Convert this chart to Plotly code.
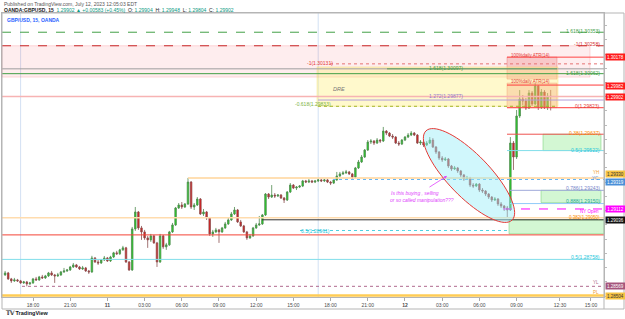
import numpy as np
import pandas as pd
import plotly.graph_objects as go

# ---------------- data ----------------
start_time = "2023-07-10 15:45"
opens = [
 1.28649, 1.28663, 1.28621, 1.28607, 1.28614, 1.28607, 1.28593, 1.28600, 1.28586, 1.28593,
 1.28621, 1.28614, 1.28635, 1.28628, 1.28642, 1.28663, 1.28649, 1.28642, 1.28649, 1.28670,
 1.28677, 1.28684, 1.28705, 1.28719, 1.28705, 1.28691, 1.28698, 1.28677, 1.28670, 1.28768,
 1.28740, 1.28733, 1.28754, 1.28768, 1.28747, 1.28775, 1.28804, 1.28797, 1.28825, 1.28839,
 1.28740, 1.28684, 1.28972, 1.29091, 1.28979, 1.28951, 1.28909, 1.28895, 1.28923, 1.28874,
 1.28740, 1.28923, 1.28846, 1.28860, 1.28951, 1.29000, 1.29119, 1.29140, 1.29126, 1.29147,
 1.29301, 1.29126, 1.29140, 1.29182, 1.29077, 1.29091, 1.29049, 1.28937, 1.28951, 1.28965,
 1.28951, 1.28979, 1.29007, 1.29035, 1.29077, 1.29105, 1.29021, 1.28993, 1.28951, 1.28909,
 1.28923, 1.28979, 1.29000, 1.29007, 1.29070, 1.29217, 1.29196, 1.29210, 1.29203, 1.29210,
 1.29189, 1.29175, 1.29231, 1.29280, 1.29259, 1.29266, 1.29273, 1.29309, 1.29301, 1.29309,
 1.29301, 1.29309, 1.29316, 1.29309, 1.29316, 1.29301, 1.29294, 1.29316, 1.29344, 1.29358,
 1.29365, 1.29372, 1.29358, 1.29337, 1.29400, 1.29442, 1.29477, 1.29526, 1.29582, 1.29589,
 1.29575, 1.29596, 1.29589, 1.29659, 1.29645, 1.29624, 1.29617, 1.29575, 1.29568, 1.29596,
 1.29617, 1.29631, 1.29645, 1.29631, 1.29575, 1.29582, 1.29561, 1.29575, 1.29596, 1.29547,
 1.29512, 1.29470, 1.29456, 1.29463, 1.29414, 1.29393, 1.29400, 1.29379, 1.29351, 1.29323,
 1.29330, 1.29280, 1.29273, 1.29287, 1.29245, 1.29238, 1.29217, 1.29196, 1.29175, 1.29182,
 1.29147, 1.29133, 1.29119, 1.29105, 1.29575, 1.29477, 1.29765, 1.29884, 1.29870, 1.29821,
 1.29926, 1.29849, 1.29975, 1.29828, 1.29933, 1.29828, 1.29904]
highs = [
 1.28677, 1.28670, 1.28628, 1.28628, 1.28621, 1.28614, 1.28607, 1.28607, 1.28600, 1.28628,
 1.28635, 1.28642, 1.28649, 1.28649, 1.28670, 1.28677, 1.28656, 1.28663, 1.28677, 1.28698,
 1.28691, 1.28712, 1.28733, 1.28726, 1.28712, 1.28712, 1.28705, 1.28684, 1.28783, 1.28775,
 1.28754, 1.28761, 1.28782, 1.28775, 1.28783, 1.28811, 1.28818, 1.28832, 1.28853, 1.28846,
 1.28747, 1.28986, 1.29126, 1.29098, 1.28993, 1.28965, 1.28923, 1.28937, 1.28930, 1.28881,
 1.28937, 1.28930, 1.28874, 1.28958, 1.29014, 1.29126, 1.29154, 1.29161, 1.29154, 1.29330,
 1.29308, 1.29154, 1.29196, 1.29189, 1.29112, 1.29098, 1.29056, 1.28965, 1.28979, 1.28972,
 1.28986, 1.29021, 1.29049, 1.29091, 1.29126, 1.29112, 1.29035, 1.29000, 1.28958, 1.28937,
 1.28986, 1.29014, 1.29063, 1.29077, 1.29224, 1.29224, 1.29280, 1.29224, 1.29217, 1.29217,
 1.29196, 1.29238, 1.29294, 1.29287, 1.29273, 1.29280, 1.29316, 1.29316, 1.29323, 1.29316,
 1.29316, 1.29323, 1.29323, 1.29323, 1.29323, 1.29309, 1.29323, 1.29372, 1.29372, 1.29379,
 1.29386, 1.29379, 1.29365, 1.29407, 1.29456, 1.29491, 1.29533, 1.29596, 1.29603, 1.29596,
 1.29610, 1.29603, 1.29688, 1.29666, 1.29652, 1.29638, 1.29624, 1.29589, 1.29603, 1.29624,
 1.29645, 1.29659, 1.29652, 1.29638, 1.29596, 1.29589, 1.29589, 1.29617, 1.29610, 1.29554,
 1.29519, 1.29484, 1.29477, 1.29470, 1.29421, 1.29414, 1.29407, 1.29386, 1.29358, 1.29344,
 1.29337, 1.29294, 1.29294, 1.29294, 1.29259, 1.29245, 1.29224, 1.29203, 1.29196, 1.29189,
 1.29161, 1.29140, 1.29133, 1.29617, 1.29589, 1.29807, 1.29947, 1.29912, 1.29891, 1.29947,
 1.29940, 1.29996, 1.29982, 1.29954, 1.29947, 1.29926, 1.29948]
lows = [
 1.28642, 1.28614, 1.28593, 1.28600, 1.28600, 1.28586, 1.28586, 1.28569, 1.28579, 1.28586,
 1.28607, 1.28607, 1.28621, 1.28621, 1.28635, 1.28642, 1.28593, 1.28635, 1.28642, 1.28663,
 1.28670, 1.28677, 1.28698, 1.28698, 1.28684, 1.28684, 1.28670, 1.28656, 1.28663, 1.28733,
 1.28719, 1.28726, 1.28747, 1.28740, 1.28740, 1.28768, 1.28790, 1.28790, 1.28818, 1.28733,
 1.28677, 1.28677, 1.28958, 1.28965, 1.28895, 1.28895, 1.28839, 1.28881, 1.28867, 1.28705,
 1.28733, 1.28832, 1.28825, 1.28853, 1.28944, 1.28993, 1.29112, 1.29112, 1.29119, 1.29140,
 1.29112, 1.29105, 1.29133, 1.29070, 1.29063, 1.29035, 1.28923, 1.28916, 1.28944, 1.28874,
 1.28944, 1.28972, 1.29000, 1.29028, 1.29070, 1.29014, 1.28986, 1.28944, 1.28895, 1.28902,
 1.28916, 1.28972, 1.28993, 1.29000, 1.29063, 1.29182, 1.29189, 1.29189, 1.29196, 1.29182,
 1.29154, 1.29168, 1.29224, 1.29252, 1.29245, 1.29259, 1.29266, 1.29294, 1.29294, 1.29294,
 1.29294, 1.29301, 1.29301, 1.29301, 1.29294, 1.29280, 1.29287, 1.29309, 1.29337, 1.29351,
 1.29358, 1.29351, 1.29323, 1.29330, 1.29393, 1.29435, 1.29470, 1.29519, 1.29568, 1.29561,
 1.29568, 1.29575, 1.29582, 1.29631, 1.29617, 1.29603, 1.29568, 1.29554, 1.29561, 1.29589,
 1.29610, 1.29624, 1.29624, 1.29568, 1.29561, 1.29547, 1.29554, 1.29568, 1.29540, 1.29498,
 1.29456, 1.29442, 1.29449, 1.29400, 1.29379, 1.29386, 1.29365, 1.29337, 1.29309, 1.29316,
 1.29266, 1.29259, 1.29266, 1.29231, 1.29224, 1.29203, 1.29182, 1.29161, 1.29168, 1.29133,
 1.29119, 1.29098, 1.29050, 1.29098, 1.29386, 1.29463, 1.29751, 1.29842, 1.29807, 1.29814,
 1.29835, 1.29842, 1.29807, 1.29814, 1.29814, 1.29807, 1.29804]
closes = [
 1.28663, 1.28621, 1.28607, 1.28614, 1.28607, 1.28593, 1.28600, 1.28586, 1.28593, 1.28621,
 1.28614, 1.28635, 1.28628, 1.28642, 1.28663, 1.28649, 1.28642, 1.28649, 1.28670, 1.28677,
 1.28684, 1.28705, 1.28719, 1.28705, 1.28691, 1.28698, 1.28677, 1.28670, 1.28768, 1.28740,
 1.28733, 1.28754, 1.28768, 1.28747, 1.28775, 1.28804, 1.28797, 1.28825, 1.28839, 1.28740,
 1.28684, 1.28972, 1.29091, 1.28979, 1.28951, 1.28909, 1.28895, 1.28923, 1.28874, 1.28740,
 1.28923, 1.28846, 1.28860, 1.28951, 1.29000, 1.29119, 1.29140, 1.29126, 1.29147, 1.29301,
 1.29126, 1.29140, 1.29182, 1.29077, 1.29091, 1.29049, 1.28937, 1.28951, 1.28965, 1.28951,
 1.28979, 1.29007, 1.29035, 1.29077, 1.29105, 1.29021, 1.28993, 1.28951, 1.28909, 1.28923,
 1.28979, 1.29000, 1.29007, 1.29070, 1.29217, 1.29196, 1.29210, 1.29203, 1.29210, 1.29189,
 1.29175, 1.29231, 1.29280, 1.29259, 1.29266, 1.29273, 1.29309, 1.29301, 1.29309, 1.29301,
 1.29309, 1.29316, 1.29309, 1.29316, 1.29301, 1.29294, 1.29316, 1.29344, 1.29358, 1.29365,
 1.29372, 1.29358, 1.29337, 1.29400, 1.29442, 1.29477, 1.29526, 1.29582, 1.29589, 1.29575,
 1.29596, 1.29589, 1.29659, 1.29645, 1.29624, 1.29617, 1.29575, 1.29568, 1.29596, 1.29617,
 1.29631, 1.29645, 1.29631, 1.29575, 1.29582, 1.29561, 1.29575, 1.29596, 1.29547, 1.29512,
 1.29470, 1.29456, 1.29463, 1.29414, 1.29393, 1.29400, 1.29379, 1.29351, 1.29323, 1.29330,
 1.29280, 1.29273, 1.29287, 1.29245, 1.29238, 1.29217, 1.29196, 1.29175, 1.29182, 1.29147,
 1.29133, 1.29119, 1.29105, 1.29575, 1.29477, 1.29765, 1.29884, 1.29870, 1.29821, 1.29926,
 1.29849, 1.29975, 1.29828, 1.29933, 1.29828, 1.29904, 1.29902]

tick_times = ["2023-07-10 18:00", "2023-07-10 21:00", "2023-07-11 00:00", "2023-07-11 03:00",
              "2023-07-11 06:00", "2023-07-11 09:00", "2023-07-11 12:00", "2023-07-11 15:00",
              "2023-07-11 18:00", "2023-07-11 21:00", "2023-07-12 00:00", "2023-07-12 03:00",
              "2023-07-12 06:00", "2023-07-12 09:00", "2023-07-12 12:30", "2023-07-12 15:00"]
tick_labels = ["18:00", "21:00", "<b>11</b>", "03:00", "06:00", "09:00", "12:00", "15:00",
               "18:00", "21:00", "<b>12</b>", "03:00", "06:00", "09:00", "12:30", "15:00"]

# horizontal levels drawn on the chart (prices)
level_prices = [1.30353, 1.30258, 1.30178, 1.30131, 1.30096, 1.30062, 1.29982, 1.29902,
                1.29877, 1.29833, 1.29823, 1.29637, 1.29522, 1.29330, 1.29319, 1.29243,
                1.29150, 1.29112, 1.29050, 1.29036, 1.28961, 1.28930, 1.28758, 1.28569,
                1.28504]
# zones (top, bottom prices)
zone_tops = [1.30258, 1.30178, 1.30109, 1.29996, 1.29637, 1.29243, 1.29036]
zone_bottoms = [1.30038, 1.30024, 1.29833, 1.29823, 1.29522, 1.29157, 1.28937]

times = pd.date_range(start_time, periods=len(closes), freq="15min")

# ---------------- layout helpers (pixel -> paper) ----------------
PL, PR, PT, PB = 2, 604, 13, 297
def X(px):
    return (px - PL) / (PR - PL)
def Y(py):
    return (PB - py) / (PB - PT)

FONT = "Liberation Sans, Arial, sans-serif"

fig = go.Figure()
fig.add_trace(go.Candlestick(
    x=times, open=opens, high=highs, low=lows, close=closes,
    increasing=dict(fillcolor="#22d522", line=dict(color="#4f8a4f", width=0.8)),
    decreasing=dict(fillcolor="#e31414", line=dict(color="#8a4f4f", width=0.8)),
    whiskerwidth=0, showlegend=False, hoverinfo="skip"))

shapes = []
# zones
zone_style = [
    (2, 590, "rgba(242,54,69,0.09)", "rgba(242,54,69,0.30)"),
    (507, 557, "rgba(230,90,90,0.25)", "rgba(230,90,90,0.6)"),
    (317, 558, "rgba(255,238,110,0.35)", "rgba(240,220,90,0.6)"),
    (507, 557, "rgba(240,150,100,0.28)", "rgba(240,130,90,0.5)"),
    (543, 601, "rgba(110,230,110,0.30)", "rgba(90,200,90,0.7)"),
    (541, 601, "rgba(110,230,110,0.30)", "rgba(90,200,90,0.7)"),
    (509, 604, "rgba(110,230,110,0.30)", "rgba(90,200,90,0.7)"),
]
for (x0, x1, fc, lc), t, b in zip(zone_style, zone_tops, zone_bottoms):
    shapes.append(dict(type="rect", xref="paper", yref="y", x0=X(x0), x1=X(x1), y0=b, y1=t,
                       fillcolor=fc, line=dict(color=lc, width=0.6), layer="above"))

line_style = [
    (2, 604, "#43a047", 1, "dash"),
    (2, 604, "#c62828", 1, "dash"),
    (507, 604, "#ff4444", 1, "solid"),
    (330, 604, "#e57373", 1, "dot"),
    (2, 604, "#9e9e9e", 1, "solid"),
    (2, 604, "#43a047", 1, "solid"),
    (507, 604, "#ff3b3b", 1, "solid"),
    (2, 604, "#f7b3b3", 1.5, "solid"),
    (318, 604, "#b39ddb", 1, "solid"),
    (318, 558, "#a4b42a", 1, "dot"),
    (507, 604, "#ff3b3b", 1, "solid"),
    (507, 604, "#ef5350", 1, "solid"),
    (507, 604, "#80deea", 1, "solid"),
    (188, 604, "#ffd59a", 1.5, "solid"),
    (333, 604, "#64b5f6", 1, "dot"),
    (510, 604, "#9fa8da", 1, "solid"),
    (510, 604, "#90caf9", 1, "solid"),
    (503, 604, "#ff00ff", 1, "dash"),
    (2, 604, "#ffdcae", 1.5, "solid"),
    (262, 604, "#333333", 1, "solid"),
    (300, 510, "#4dd0e1", 1, "dot"),
    (2, 604, "#f44336", 1, "solid"),
    (2, 604, "#80deea", 1, "solid"),
    (22, 604, "#b06a8f", 1, "dot"),
    (2, 604, "#ffcc55", 2.5, "solid"),
]
for (x0, x1, c, w, d), p in zip(line_style, level_prices):
    shapes.append(dict(type="line", xref="paper", yref="y", x0=X(x0), x1=X(x1), y0=p, y1=p,
                       line=dict(color=c, width=w, dash=d), layer="above"))
# green overlay segment of 1.618 level
shapes.append(dict(type="line", xref="paper", yref="y", x0=X(387), x1=X(557),
                   y0=level_prices[4], y1=level_prices[4], line=dict(color="#5a9f5a", width=1)))

# session breaks
for t in ["2023-07-10 17:00", "2023-07-11 17:00"]:
    shapes.append(dict(type="line", xref="x", yref="paper", x0=t, x1=t, y0=0, y1=1,
                       line=dict(color="#d3e1f3", width=1), layer="below"))

# ellipse drawing (pixel geometry)
cx, cy, a, b = 469, 175.5, 62, 21
th = np.arctan2(87, 84)
tt = np.linspace(0, 2 * np.pi, 73)
ex = cx + a * np.cos(tt) * np.cos(th) - b * np.sin(tt) * np.sin(th)
ey = cy + a * np.cos(tt) * np.sin(th) + b * np.sin(tt) * np.cos(th)
path = "M " + " L ".join(f"{X(u):.5f},{Y(v):.5f}" for u, v in zip(ex, ey)) + " Z"
shapes.append(dict(type="path", xref="paper", yref="paper", path=path,
                   fillcolor="rgba(150,238,248,0.45)", line=dict(color="#e53935", width=1)))

# frame of axes area
shapes.append(dict(type="rect", xref="paper", yref="paper", x0=X(2), x1=X(624), y0=Y(309), y1=Y(13),
                   line=dict(color="#b5b5b5", width=1)))
shapes.append(dict(type="line", xref="paper", yref="paper", x0=X(604), x1=X(604), y0=Y(309), y1=Y(13),
                   line=dict(color="#b5b5b5", width=1)))

ann = []
def txt(px, py, s, color, size=5, anchor="left", italic=False, bold=False):
    if italic:
        s = f"<i>{s}</i>"
    if bold:
        s = f"<b>{s}</b>"
    ann.append(dict(xref="paper", yref="paper", x=X(px), y=Y(py), text=s, showarrow=False,
                    xanchor=anchor, yanchor="middle", font=dict(size=size, color=color, family=FONT)))

# header
txt(2, 4, "Published on TradingView.com, July 12, 2023 12:05:03 EDT", "#555555", 5)
g = "#089981"
txt(2, 10, f"<b>OANDA:GBPUSD, 15</b>  <span style='color:{g}'>1.29902 ▲ +0.00583 (+0.45%)</span>  "
           f"O: <span style='color:{g}'>1.29904</span>  H: <span style='color:{g}'>1.29948</span>  "
           f"L: <span style='color:{g}'>1.29804</span>  C: <span style='color:{g}'>1.29902</span>", "#222222", 5)
txt(5, 20, "GBP/USD, 15, OANDA", "#2962ff", 5, bold=True)

# level labels
txt(602, 31, "1.618(1.30353)", "#43a047", 5, "right")
txt(602, 44, "-1(1.30258)", "#d32f2f", 5, "right")
txt(509, 55, "100%daily ATR(14)", "#e53935", 4.5)
txt(305, 63, "-1(1.30131)", "#e53935", 5)
txt(427, 68, "1.618(1.30097)", "#43a047", 5)
txt(602, 72.5, "1.618(1.30062)", "#43a047", 5, "right")
txt(509, 81, "100%daily ATR(14)", "#e53935", 4.5)
txt(331, 89, "DRE", "#777777", 5.5, italic=True)
txt(427, 96, "1.272(1.29877)", "#9575cd", 5)
txt(293, 104.5, "-0.618(1.29833)", "#7cb342", 5)
txt(602, 106, "0(1.29823)", "#e53935", 5, "right")
txt(602, 133, "0.38(1.29637)", "#fb8c00", 5, "right")
txt(602, 150, "0.5(1.29522)", "#26c6da", 5, "right")
txt(601, 172, "YH", "#f0a030", 4.5, "right")
txt(601, 178, "YC", "#5c8fd6", 4.5, "right")
txt(602, 188, "0.786(1.29243)", "#7986cb", 5, "right")
txt(602, 201, "0.888(1.29150)", "#26a69a", 5, "right")
txt(601, 211, "NY Open", "#ff00ff", 4.5, "right")
txt(602, 217.5, "0.382(1.29050)", "#fb8c00", 4.5, "right")
txt(299, 231, "0.5(1.28961)", "#26c6da", 5)
txt(602, 257, "0.5(1.28758)", "#26c6da", 5, "right")
txt(601, 282, "YL", "#ad6b8b", 4.5, "right")
txt(601, 292, "PL", "#f0a030", 4.5, "right")

# note
txt(389, 193, "Is this buying , selling", "#e040fb", 5, italic=True)
txt(388, 199.5, "or so called manipulation???", "#e040fb", 5, italic=True)
ann.append(dict(xref="paper", yref="paper", x=X(447), y=Y(176), ax=-19, ay=12, text="",
                showarrow=True, arrowhead=2, arrowsize=0.7, arrowwidth=0.8, arrowcolor="#e040fb"))

# price axis labels
axis_labels = [(57, "1.30178", "#ff1a1a", "white"), (86, "1.29982", "#ff1a1a", "white"),
               (97, "1.29902", "#ff1a1a", "white"), (174, "1.29330", "#f6c343", "#333333"),
               (182, "1.29319", "#4a8fd8", "white"), (209, "1.29112", "#ff00ff", "white"),
               (220, "1.29036", "#111111", "white"), (286, "1.28569", "#a5567c", "white"),
               (296, "1.28504", "#f6c343", "#333333")]
for py, s, bg, fc in axis_labels:
    ann.append(dict(xref="paper", yref="paper", x=X(605), y=Y(py), text=s, showarrow=False,
                    xanchor="left", yanchor="middle", bgcolor=bg, width=19, height=6, borderpad=0,
                    font=dict(size=4.5, color=fc, family=FONT)))

# footer
txt(3, 313, "<b>𝕋𝕍 TradingView</b>", "#131722", 5.5)

fig.update_layout(
    width=625, height=319, margin=dict(l=PL, r=625 - PR, t=PT, b=319 - PB),
    paper_bgcolor="white", plot_bgcolor="white",
    shapes=shapes, annotations=ann, showlegend=False,
    font=dict(family=FONT, size=5, color="#555555"),
    xaxis=dict(type="date", range=["2023-07-10 15:30", "2023-07-12 16:03"],
               rangeslider=dict(visible=False), showgrid=False, zeroline=False,
               tickvals=tick_times, ticktext=tick_labels, ticks="outside", ticklen=3,
               tickcolor="#aaaaaa", tickfont=dict(size=5, color="#4a4a4a", family=FONT),
               showline=True, linecolor="#b5b5b5", mirror=True),
    yaxis=dict(range=[1.28494, 1.30488], side="right", showgrid=False, zeroline=False,
               showticklabels=False, ticks="outside", ticklen=2, dtick=0.001,
               tickcolor="#bbbbbb", showline=True, linecolor="#b5b5b5", mirror=True),
)

fig.write_html("out.html")
